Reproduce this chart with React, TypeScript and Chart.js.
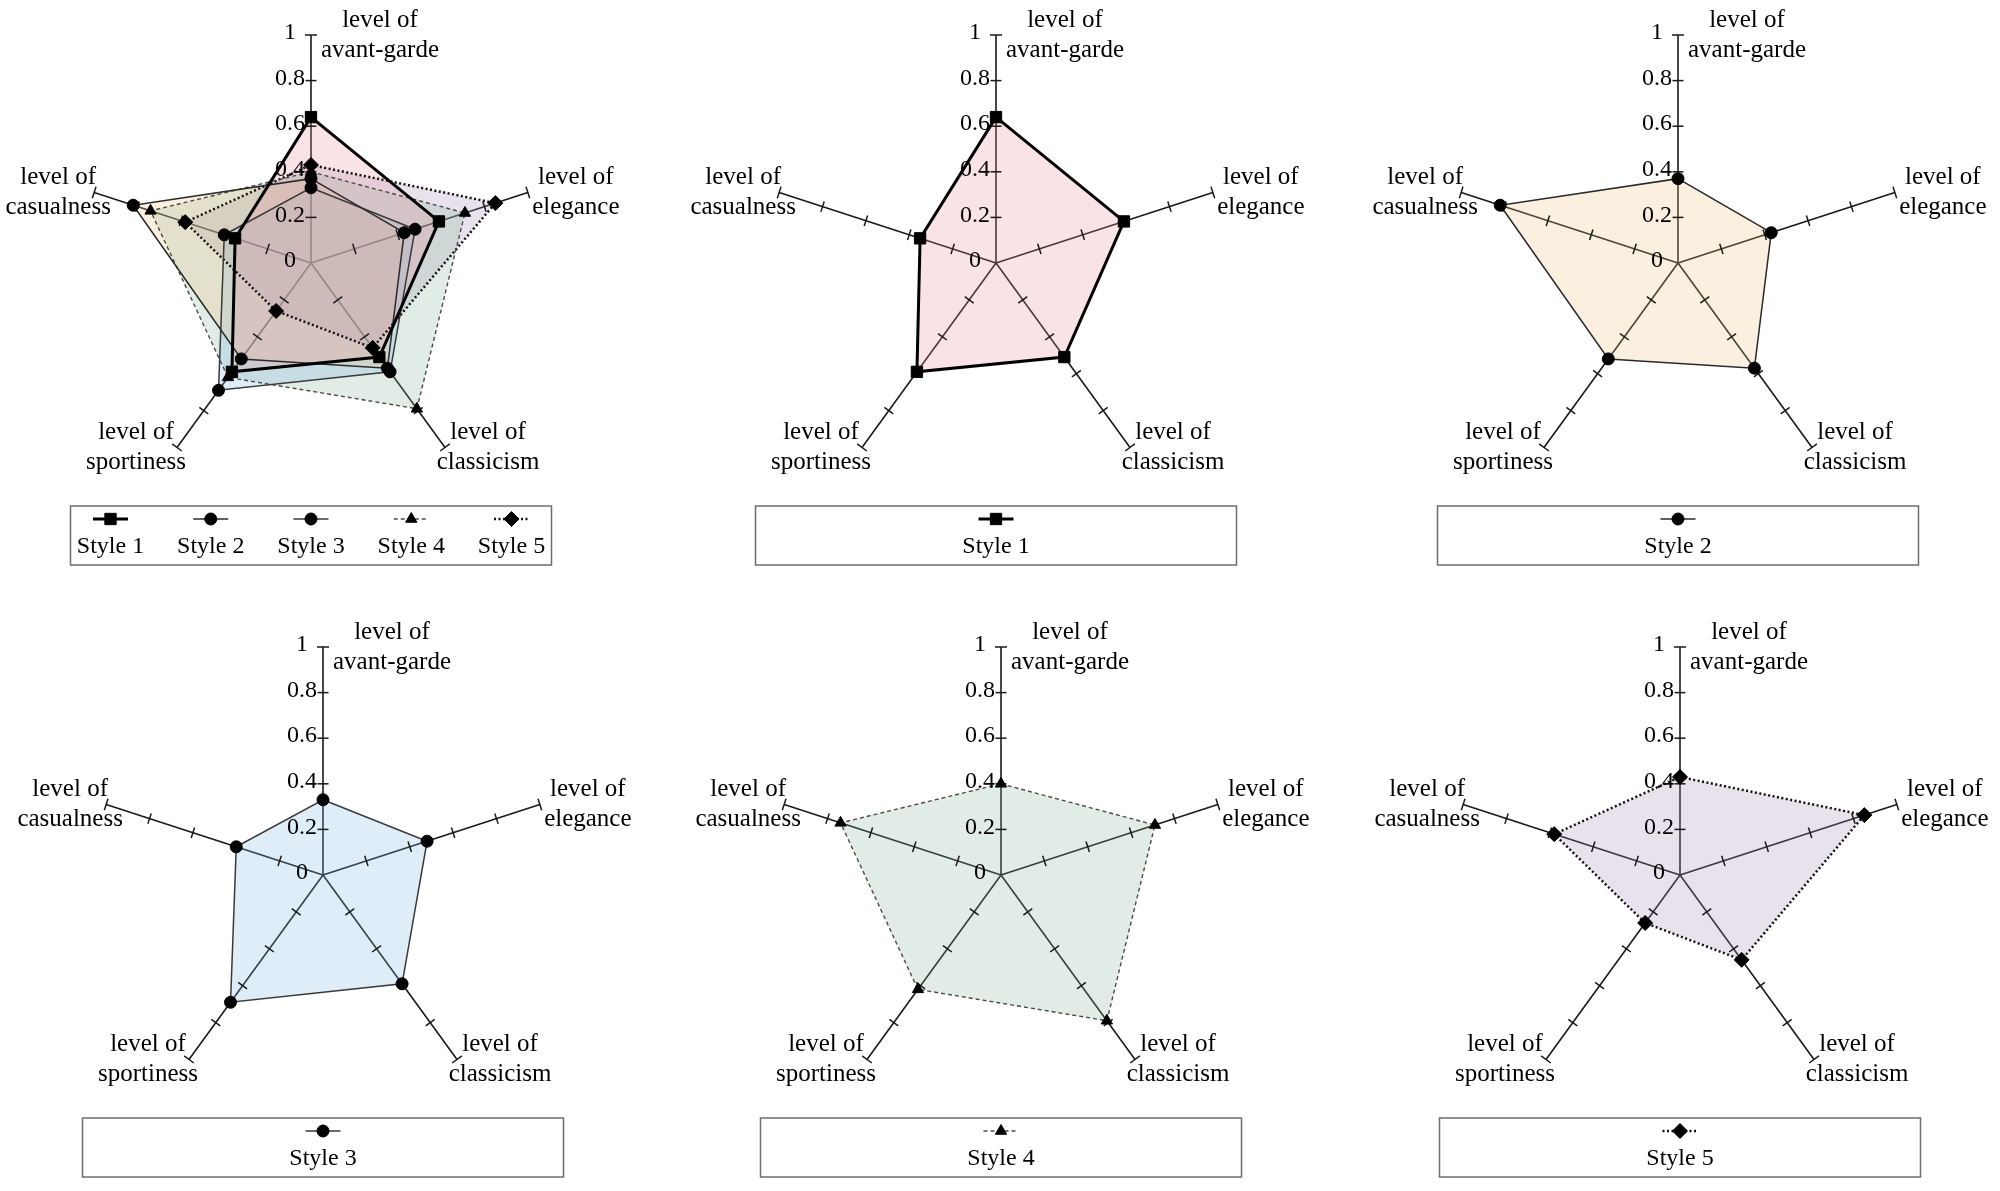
import { useEffect, useRef } from "react";
import { Chart, registerables } from "chart.js";
import { drawPoint } from "chart.js/helpers";

Chart.register(...registerables);

// axes, clockwise from the top
const AXES = [
  ["level of", "avant-garde"],
  ["level of", "elegance"],
  ["level of", "classicism"],
  ["level of", "sportiness"],
  ["level of", "casualness"],
];
const TICK_VALUES = [0, 0.2, 0.4, 0.6, 0.8, 1];
const TICK_LABELS = ["0", "0.2", "0.4", "0.6", "0.8", "1"];

const SERIES_NAMES = ["Style 1", "Style 2", "Style 3", "Style 4", "Style 5"];
const STYLE_1 = [0.64, 0.59, 0.51, 0.59, 0.35];
const STYLE_2 = [0.37, 0.43, 0.57, 0.52, 0.82];
const STYLE_3 = [0.33, 0.48, 0.59, 0.69, 0.40];
const STYLE_4 = [0.40, 0.71, 0.79, 0.62, 0.74];
const STYLE_5 = [0.43, 0.85, 0.46, 0.26, 0.58];
const SERIES_VALUES = [STYLE_1, STYLE_2, STYLE_3, STYLE_4, STYLE_5];

const SERIES_LOOK = [
  { fill: "rgba(231,143,159,0.25)", line: "#000000", width: 3, dash: [], point: "rect", radius: 8 },
  { fill: "rgba(240,190,130,0.25)", line: "#2a2a2a", width: 1.5, dash: [], point: "circle", radius: 6 },
  { fill: "rgba(125,185,225,0.25)", line: "#3a3a3a", width: 1.5, dash: [], point: "circle", radius: 6 },
  { fill: "rgba(130,180,150,0.25)", line: "#4a4a4a", width: 1.4, dash: [4, 3], point: "triangle", radius: 6.5 },
  { fill: "rgba(160,140,175,0.25)", line: "#111111", width: 2.5, dash: [2, 2.5], point: "rectRot", radius: 7.5 },
];

const FONT = '"Liberation Serif", "Times New Roman", serif';
const TEXT = "#000000";
const AXIS = "#1a1a1a";

// canvas geometry
const R = 228;
const CW = 640;
const CH = 590;
const CX = 320;
const CY = 275;

// label placement next to each axis end
const LABEL_DX = [69, 48, 43, -41, -36];
const LABEL_DY = [-15, 15];

const PANELS = [
  { left: -9, top: -12, series: [0, 1, 2, 3, 4] },
  { left: 676, top: -12, series: [0] },
  { left: 1358, top: -12, series: [1] },
  { left: 3, top: 600, series: [2] },
  { left: 681, top: 600, series: [3] },
  { left: 1360, top: 600, series: [4] },
];

const excelRadar = {
  id: "excelRadar",
  beforeDatasetsDraw(chart: any) {
    // small cross ticks along every axis, with an end cap at the maximum
    const scale = chart.scales.r;
    const ctx = chart.ctx;
    const n = chart.data.labels.length;
    const last = scale.ticks.length - 1;
    ctx.save();
    ctx.strokeStyle = AXIS;
    ctx.lineWidth = 1.5;
    for (let i = 0; i < n; i++) {
      scale.ticks.forEach((t: any, k: number) => {
        if (k === 0) return;
        const p = scale.getPointPositionForValue(i, t.value);
        const nx = -Math.sin(p.angle);
        const ny = Math.cos(p.angle);
        const h = k === last ? 6 : 5.5;
        ctx.beginPath();
        ctx.moveTo(p.x - nx * h, p.y - ny * h);
        ctx.lineTo(p.x + nx * h, p.y + ny * h);
        ctx.stroke();
      });
    }
    ctx.restore();
  },
  afterDatasetsDraw(chart: any) {
    const scale = chart.scales.r;
    const ctx = chart.ctx;
    ctx.save();
    ctx.font = `24px ${FONT}`;
    ctx.fillStyle = TEXT;
    ctx.textAlign = "center";
    ctx.textBaseline = "middle";
    scale.ticks.forEach((t: any) => {
      const d = scale.getDistanceFromCenterForValue(t.value);
      ctx.fillText(t.label, scale.xCenter - 21, scale.yCenter - d - 2);
    });
    ctx.restore();
  },
  afterDraw(chart: any) {
    const scale = chart.scales.r;
    const ctx = chart.ctx;
    ctx.save();
    ctx.font = `25px ${FONT}`;
    ctx.fillStyle = TEXT;
    ctx.textAlign = "center";
    ctx.textBaseline = "middle";
    chart.data.labels.forEach((lines: string[], i: number) => {
      const p = scale.getPointPositionForValue(i, scale.max);
      lines.forEach((s, k) => ctx.fillText(s, p.x + LABEL_DX[i], p.y + LABEL_DY[k]));
    });

    // legend box under the radar
    const bw = 481;
    const bh = 59;
    const bx = scale.xCenter - bw / 2;
    const by = scale.yCenter + 243;
    ctx.strokeStyle = "#6e6e6e";
    ctx.lineWidth = 1.5;
    ctx.strokeRect(bx, by, bw, bh);

    ctx.font = `24px ${FONT}`;
    const sets = chart.data.datasets;
    const m = sets.length;
    sets.forEach((ds: any, j: number) => {
      const x = m === 1 ? scale.xCenter : bx + 40 + (j * (bw - 80)) / (m - 1);
      const y = by + 13;
      ctx.save();
      ctx.strokeStyle = ds.borderColor;
      ctx.lineWidth = ds.borderWidth;
      ctx.setLineDash(ds.borderDash);
      ctx.beginPath();
      ctx.moveTo(x - 17.5, y);
      ctx.lineTo(x + 17.5, y);
      ctx.stroke();
      ctx.setLineDash([]);
      ctx.fillStyle = "#000";
      ctx.strokeStyle = "#000";
      ctx.lineWidth = 1;
      drawPoint(ctx, { pointStyle: ds.pointStyle, radius: ds.pointRadius, rotation: 0, borderWidth: 1 }, x, y);
      ctx.restore();
      ctx.fillStyle = TEXT;
      ctx.fillText(ds.label, x, by + 41);
    });
    ctx.restore();
  },
};

function RadarPanel({ left, top, series }: { left: number; top: number; series: number[] }) {
  const chartRef = useRef<HTMLCanvasElement>(null);
  const chartInstance = useRef<Chart | null>(null);

  useEffect(() => {
    if (!chartRef.current) return;
    if (chartInstance.current) chartInstance.current.destroy();

    const datasets = series.map((s) => {
      const look = SERIES_LOOK[s];
      return {
        label: SERIES_NAMES[s],
        data: SERIES_VALUES[s],
        backgroundColor: look.fill,
        borderColor: look.line,
        borderWidth: look.width,
        borderDash: look.dash,
        fill: true,
        tension: 0,
        pointStyle: look.point,
        pointRadius: look.radius,
        pointBackgroundColor: "#000",
        pointBorderColor: "#000",
        pointBorderWidth: 1,
      };
    });

    chartInstance.current = new Chart(chartRef.current, {
      type: "radar",
      data: { labels: AXES, datasets } as any,
      options: {
        responsive: false,
        animation: false,
        layout: {
          padding: { left: CX - R, right: CW - CX - R, top: CY - R, bottom: CH - CY - R },
        },
        plugins: {
          legend: { display: false },
          tooltip: { enabled: false },
          filler: { drawTime: "beforeDatasetsDraw" },
        },
        scales: {
          r: {
            min: TICK_VALUES[0],
            max: TICK_VALUES[TICK_VALUES.length - 1],
            ticks: {
              stepSize: TICK_VALUES[1] - TICK_VALUES[0],
              display: false,
              callback: (_v: any, i: number) => TICK_LABELS[i],
            },
            grid: { display: false },
            angleLines: { display: true, color: AXIS, lineWidth: 1.6 },
            pointLabels: { display: false },
          },
        },
      } as any,
      plugins: [excelRadar],
    });

    return () => {
      if (chartInstance.current) {
        chartInstance.current.destroy();
        chartInstance.current = null;
      }
    };
  }, [series]);

  return (
    <canvas
      ref={chartRef}
      width={CW}
      height={CH}
      style={{ position: "absolute", left, top, width: CW, height: CH }}
    />
  );
}

export default function App() {
  return (
    <div
      style={{
        position: "fixed",
        left: 0,
        top: 0,
        width: 2000,
        height: 1191,
        overflow: "hidden",
        background: "#ffffff",
      }}
    >
      {PANELS.map((p, i) => (
        <RadarPanel key={i} left={p.left} top={p.top} series={p.series} />
      ))}
    </div>
  );
}
